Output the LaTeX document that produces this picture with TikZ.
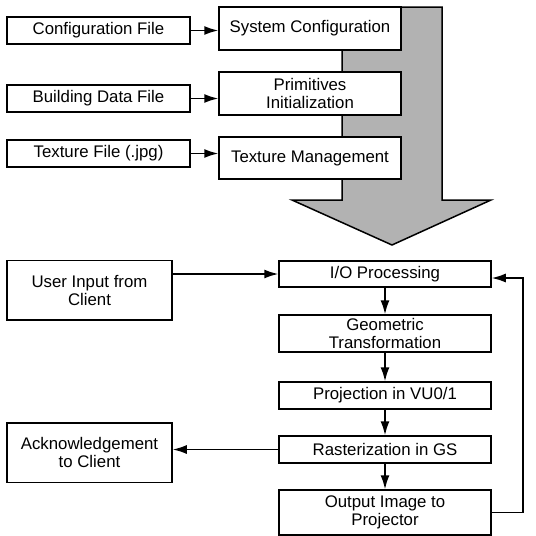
\documentclass[tikz,border=0pt]{standalone}
\usepackage{fontspec}
\setmainfont{Liberation Sans}
\usepackage{tikz}
\usetikzlibrary{arrows.meta}

\begin{document}
\begin{tikzpicture}[x=0.5pt, y=-0.5pt, >={Latex[length=7pt,width=4.5pt]}]
  \tikzstyle{block} = [draw, line width=0.75pt, fill=white, rectangle, inner sep=0pt, align=center, font={\fontsize{8.4}{9}\selectfont}]
  \tikzstyle{fileBox} = [block, minimum width=91.5pt, minimum height=13.5pt]
  \tikzstyle{stageBox} = [block, minimum width=91pt]
  \tikzstyle{loopBox} = [block, minimum width=106pt]
  \tikzstyle{clientBox} = [block, minimum width=82.5pt, minimum height=29.75pt]
  \tikzstyle{flowEdge} = [black, line width=0.75pt, ->];

  \useasboundingbox (0,0) rectangle (536,536);

  % big initialisation arrow behind the stages
  \draw[line width=0.75pt, fill=black!30] (342,7) -- (442,7) -- (442,200) -- (491,200)
        -- (392,245) -- (292,200) -- (342,200) -- cycle;

  \node[fileBox]                        (cfg)  at (98.5,30.5)  {Configuration File};
  \node[stageBox, minimum height=21.5pt] (sys)  at (310,28.5)   {System Configuration};
  \node[fileBox]                        (bld)  at (98.5,98.5)  {Building Data File};
  \node[stageBox, minimum height=21.5pt] (prim) at (310,93.5)   {Primitives\\Initialization};
  \node[fileBox]                        (tex)  at (98.5,153.5) {Texture File (.jpg)};
  \node[stageBox, minimum height=21pt]   (tmgr) at (310,158)    {Texture Management};

  \node[clientBox]                      (user) at (89.5,290)   {User Input from\\Client};
  \node[loopBox, minimum height=13pt]   (io)   at (385,274)    {I/O Processing};
  \node[loopBox, minimum height=18.5pt] (geo)  at (385,333.5)  {Geometric\\Transformation};
  \node[loopBox, minimum height=13.5pt] (proj) at (385,395.5)  {Projection in VU0/1};
  \node[loopBox, minimum height=13.5pt] (rast) at (385,449.5)  {Rasterization in GS};
  \node[loopBox, minimum height=22.5pt] (out)  at (385,512.5)  {Output Image to\\Projector};
  \node[clientBox]                      (ack)  at (89.5,452.5) {Acknowledgement\\to Client};

  \path (cfg.east) edge[flowEdge] (cfg.east -| sys.west)
        (bld.east) edge[flowEdge] (bld.east -| prim.west)
        (tex.east) edge[flowEdge] (tex.east -| tmgr.west)
        (io.west -| user.east) edge[flowEdge] (io.west)
        (io) edge[flowEdge] (geo)
        (geo) edge[flowEdge] (proj)
        (proj) edge[flowEdge] (rast)
        (rast) edge[flowEdge] (out)
        (rast.west) edge[flowEdge] (rast.west -| ack.east);

  % back to I/O after each frame
  \draw[flowEdge] (out.east) -- ++(31,0) |- ([yshift=-2pt]io.east);

\end{tikzpicture}
\end{document}
